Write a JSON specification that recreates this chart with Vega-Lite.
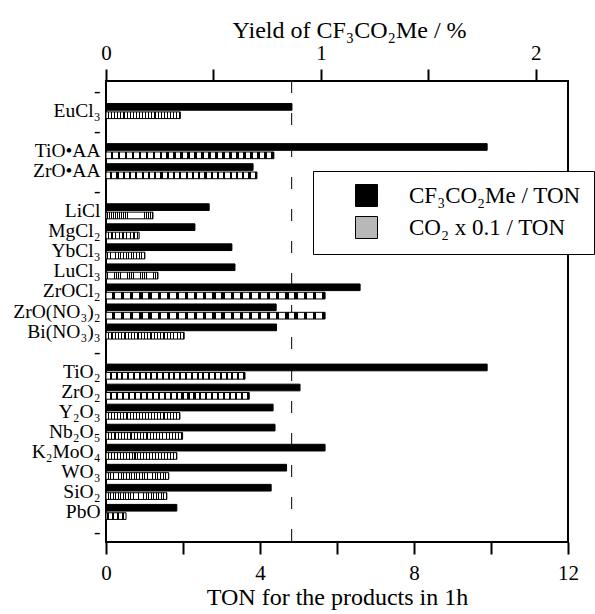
{
  "$schema": "https://vega.github.io/schema/vega-lite/v6.json",
  "width": 462,
  "height": 461,
  "autosize": "none",
  "padding": {"left": 106, "top": 81, "right": 27, "bottom": 72},
  "background": "white",
  "config": {
    "view": {"stroke": "black", "strokeWidth": 2},
    "font": "'Liberation Serif', 'Times New Roman', Times, serif",
    "axis": {
      "domain": false,
      "grid": false,
      "tickColor": "black",
      "tickWidth": 2,
      "tickSize": 12,
      "labelFont": "'Liberation Serif', 'Times New Roman', Times, serif",
      "titleFont": "'Liberation Serif', 'Times New Roman', Times, serif",
      "labelFontSize": 21,
      "titleFontSize": 24,
      "titleFontWeight": "normal",
      "labelColor": "black",
      "titleColor": "black"
    },
    "legend": {"labelFont": "'Liberation Serif', 'Times New Roman', Times, serif"}
  },
  "datasets": {
    "bars": [
      {"cat": "EuCl₃", "series": "CF₃CO₂Me / TON", "ton": 4.83},
      {"cat": "EuCl₃", "series": "CO₂ x 0.1 / TON", "ton": 1.93},
      {"cat": "TiO•AA", "series": "CF₃CO₂Me / TON", "ton": 9.9},
      {"cat": "TiO•AA", "series": "CO₂ x 0.1 / TON", "ton": 4.36},
      {"cat": "ZrO•AA", "series": "CF₃CO₂Me / TON", "ton": 3.82},
      {"cat": "ZrO•AA", "series": "CO₂ x 0.1 / TON", "ton": 3.92},
      {"cat": "LiCl", "series": "CF₃CO₂Me / TON", "ton": 2.68},
      {"cat": "LiCl", "series": "CO₂ x 0.1 / TON", "ton": 1.22},
      {"cat": "MgCl₂", "series": "CF₃CO₂Me / TON", "ton": 2.31},
      {"cat": "MgCl₂", "series": "CO₂ x 0.1 / TON", "ton": 0.86},
      {"cat": "YbCl₃", "series": "CF₃CO₂Me / TON", "ton": 3.27},
      {"cat": "YbCl₃", "series": "CO₂ x 0.1 / TON", "ton": 1.01},
      {"cat": "LuCl₃", "series": "CF₃CO₂Me / TON", "ton": 3.35},
      {"cat": "LuCl₃", "series": "CO₂ x 0.1 / TON", "ton": 1.35},
      {"cat": "ZrOCl₂", "series": "CF₃CO₂Me / TON", "ton": 6.6},
      {"cat": "ZrOCl₂", "series": "CO₂ x 0.1 / TON", "ton": 5.69},
      {"cat": "ZrO(NO₃)₂", "series": "CF₃CO₂Me / TON", "ton": 4.42},
      {"cat": "ZrO(NO₃)₂", "series": "CO₂ x 0.1 / TON", "ton": 5.69},
      {"cat": "Bi(NO₃)₃", "series": "CF₃CO₂Me / TON", "ton": 4.43},
      {"cat": "Bi(NO₃)₃", "series": "CO₂ x 0.1 / TON", "ton": 2.03},
      {"cat": "TiO₂", "series": "CF₃CO₂Me / TON", "ton": 9.9},
      {"cat": "TiO₂", "series": "CO₂ x 0.1 / TON", "ton": 3.61},
      {"cat": "ZrO₂", "series": "CF₃CO₂Me / TON", "ton": 5.04},
      {"cat": "ZrO₂", "series": "CO₂ x 0.1 / TON", "ton": 3.72},
      {"cat": "Y₂O₃", "series": "CF₃CO₂Me / TON", "ton": 4.34},
      {"cat": "Y₂O₃", "series": "CO₂ x 0.1 / TON", "ton": 1.92},
      {"cat": "Nb₂O₅", "series": "CF₃CO₂Me / TON", "ton": 4.39},
      {"cat": "Nb₂O₅", "series": "CO₂ x 0.1 / TON", "ton": 1.99},
      {"cat": "K₂MoO₄", "series": "CF₃CO₂Me / TON", "ton": 5.69},
      {"cat": "K₂MoO₄", "series": "CO₂ x 0.1 / TON", "ton": 1.84},
      {"cat": "WO₃", "series": "CF₃CO₂Me / TON", "ton": 4.69},
      {"cat": "WO₃", "series": "CO₂ x 0.1 / TON", "ton": 1.63},
      {"cat": "SiO₂", "series": "CF₃CO₂Me / TON", "ton": 4.29},
      {"cat": "SiO₂", "series": "CO₂ x 0.1 / TON", "ton": 1.58},
      {"cat": "PbO", "series": "CF₃CO₂Me / TON", "ton": 1.84},
      {"cat": "PbO", "series": "CO₂ x 0.1 / TON", "ton": 0.52}
    ],
    "ref": [{"yield": 0.864}]
  },
  "layer": [
    {
      "data": {"name": "ref"},
      "mark": {"type": "rule", "color": "black", "strokeWidth": 1, "strokeDash": [12, 20]},
      "encoding": {
        "x": {
          "field": "yield",
          "type": "quantitative",
          "scale": {"domain": [0, 2.15], "nice": false, "zero": true},
          "axis": {
            "orient": "top",
            "values": [0, 0.5, 1, 1.5, 2],
            "labelExpr": "datum.value % 1 == 0 ? format(datum.value, 'd') : ''",
            "labelPadding": 6,
            "titlePadding": 0,
            "title": "Yield of CF₃CO₂Me / %",
            "titleX": 243,
            "titleAlign": "center",
            "labelFlush": false
          }
        }
      }
    },
    {
      "data": {"name": "bars"},
      "encoding": {
        "y": {
          "field": "cat",
          "type": "nominal",
          "scale": {
            "domain": ["-1", "EuCl₃", "-2", "TiO•AA", "ZrO•AA", "-3", "LiCl", "MgCl₂", "YbCl₃", "LuCl₃", "ZrOCl₂", "ZrO(NO₃)₂", "Bi(NO₃)₃", "-4", "TiO₂", "ZrO₂", "Y₂O₃", "Nb₂O₅", "K₂MoO₄", "WO₃", "SiO₂", "PbO", "-5"],
            "paddingInner": 0.25,
            "paddingOuter": 0.125
          },
          "axis": {
            "title": null,
            "ticks": false,
            "labelPadding": 6,
            "labelFontSize": 19.5,
            "labelOverlap": false,
            "labelBound": false,
            "labelExpr": "indexof(datum.value, '-') == 0 ? '-' : datum.value"
          }
        },
        "yOffset": {
          "field": "series",
          "type": "nominal",
          "scale": {"domain": ["CF₃CO₂Me / TON", "CO₂ x 0.1 / TON"], "paddingInner": 0.2}
        },
        "x": {
          "field": "ton",
          "type": "quantitative",
          "scale": {"domain": [0, 12], "nice": false},
          "axis": {
            "orient": "bottom",
            "values": [0, 2, 4, 6, 8, 10, 12],
            "labelExpr": "datum.value % 4 == 0 ? format(datum.value, 'd') : ''",
            "labelPadding": 8,
            "titlePadding": 2,
            "title": "TON for the products in 1h",
            "labelFlush": false
          }
        }
      },
      "layer": [
        {
          "transform": [{"filter": "datum.series == 'CF₃CO₂Me / TON'"}],
          "mark": {"type": "bar", "stroke": "black", "strokeWidth": 1},
          "encoding": {
            "color": {
              "field": "series",
              "type": "nominal",
              "scale": {
                "domain": ["CF₃CO₂Me / TON", "CO₂ x 0.1 / TON"],
                "range": ["#000000", "#b8b8b8"]
              },
              "legend": {
                "title": null,
                "orient": "none",
                "legendX": 207,
                "legendY": 90,
                "padding": 13,
                "fillColor": "white",
                "strokeColor": "black",
                "symbolType": "square",
                "symbolSize": 484,
                "symbolStrokeColor": "black",
                "symbolStrokeWidth": 1,
                "symbolOffset": 29,
                "labelOffset": 31,
                "labelFontSize": 23,
                "labelColor": "black",
                "labelFont": "'Liberation Serif', 'Times New Roman', Times, serif",
                "rowPadding": 5,
                "labelLimit": 300
              }
            }
          }
        },
        {
          "transform": [{"filter": "datum.series == 'CO₂ x 0.1 / TON'"}],
          "mark": {
            "type": "bar",
            "stroke": "black",
            "strokeWidth": 1,
            "fill": {"gradient": "linear", "x1": 0, "y1": 0, "x2": 1, "y2": 0, "stops": [
              {"offset": 0, "color": "white"}, {"offset": 0.0271, "color": "white"}, {"offset": 0.0271, "color": "black"}, {"offset": 0.0417, "color": "black"},
              {"offset": 0.0417, "color": "white"}, {"offset": 0.0688, "color": "white"}, {"offset": 0.0688, "color": "black"}, {"offset": 0.0833, "color": "black"},
              {"offset": 0.0833, "color": "white"}, {"offset": 0.1104, "color": "white"}, {"offset": 0.1104, "color": "black"}, {"offset": 0.125, "color": "black"},
              {"offset": 0.125, "color": "white"}, {"offset": 0.1521, "color": "white"}, {"offset": 0.1521, "color": "black"}, {"offset": 0.1667, "color": "black"},
              {"offset": 0.1667, "color": "white"}, {"offset": 0.1938, "color": "white"}, {"offset": 0.1938, "color": "black"}, {"offset": 0.2083, "color": "black"},
              {"offset": 0.2083, "color": "white"}, {"offset": 0.2354, "color": "white"}, {"offset": 0.2354, "color": "black"}, {"offset": 0.25, "color": "black"},
              {"offset": 0.25, "color": "white"}, {"offset": 0.2771, "color": "white"}, {"offset": 0.2771, "color": "black"}, {"offset": 0.2917, "color": "black"},
              {"offset": 0.2917, "color": "white"}, {"offset": 0.3188, "color": "white"}, {"offset": 0.3188, "color": "black"}, {"offset": 0.3333, "color": "black"},
              {"offset": 0.3333, "color": "white"}, {"offset": 0.3604, "color": "white"}, {"offset": 0.3604, "color": "black"}, {"offset": 0.375, "color": "black"},
              {"offset": 0.375, "color": "white"}, {"offset": 0.4021, "color": "white"}, {"offset": 0.4021, "color": "black"}, {"offset": 0.4167, "color": "black"},
              {"offset": 0.4167, "color": "white"}, {"offset": 0.4438, "color": "white"}, {"offset": 0.4438, "color": "black"}, {"offset": 0.4583, "color": "black"},
              {"offset": 0.4583, "color": "white"}, {"offset": 0.4854, "color": "white"}, {"offset": 0.4854, "color": "black"}, {"offset": 0.5, "color": "black"},
              {"offset": 0.5, "color": "white"}, {"offset": 0.5271, "color": "white"}, {"offset": 0.5271, "color": "black"}, {"offset": 0.5417, "color": "black"},
              {"offset": 0.5417, "color": "white"}, {"offset": 0.5688, "color": "white"}, {"offset": 0.5688, "color": "black"}, {"offset": 0.5833, "color": "black"},
              {"offset": 0.5833, "color": "white"}, {"offset": 0.6104, "color": "white"}, {"offset": 0.6104, "color": "black"}, {"offset": 0.625, "color": "black"},
              {"offset": 0.625, "color": "white"}, {"offset": 0.6521, "color": "white"}, {"offset": 0.6521, "color": "black"}, {"offset": 0.6667, "color": "black"},
              {"offset": 0.6667, "color": "white"}, {"offset": 0.6938, "color": "white"}, {"offset": 0.6938, "color": "black"}, {"offset": 0.7083, "color": "black"},
              {"offset": 0.7083, "color": "white"}, {"offset": 0.7354, "color": "white"}, {"offset": 0.7354, "color": "black"}, {"offset": 0.75, "color": "black"},
              {"offset": 0.75, "color": "white"}, {"offset": 0.7771, "color": "white"}, {"offset": 0.7771, "color": "black"}, {"offset": 0.7917, "color": "black"},
              {"offset": 0.7917, "color": "white"}, {"offset": 0.8188, "color": "white"}, {"offset": 0.8188, "color": "black"}, {"offset": 0.8333, "color": "black"},
              {"offset": 0.8333, "color": "white"}, {"offset": 0.8604, "color": "white"}, {"offset": 0.8604, "color": "black"}, {"offset": 0.875, "color": "black"},
              {"offset": 0.875, "color": "white"}, {"offset": 0.9021, "color": "white"}, {"offset": 0.9021, "color": "black"}, {"offset": 0.9167, "color": "black"},
              {"offset": 0.9167, "color": "white"}, {"offset": 0.9438, "color": "white"}, {"offset": 0.9438, "color": "black"}, {"offset": 0.9583, "color": "black"},
              {"offset": 0.9583, "color": "white"}, {"offset": 0.9854, "color": "white"}, {"offset": 0.9854, "color": "black"}, {"offset": 1, "color": "black"}
            ]}
          }
        }
      ]
    }
  ],
  "resolve": {"scale": {"x": "independent"}}
}
